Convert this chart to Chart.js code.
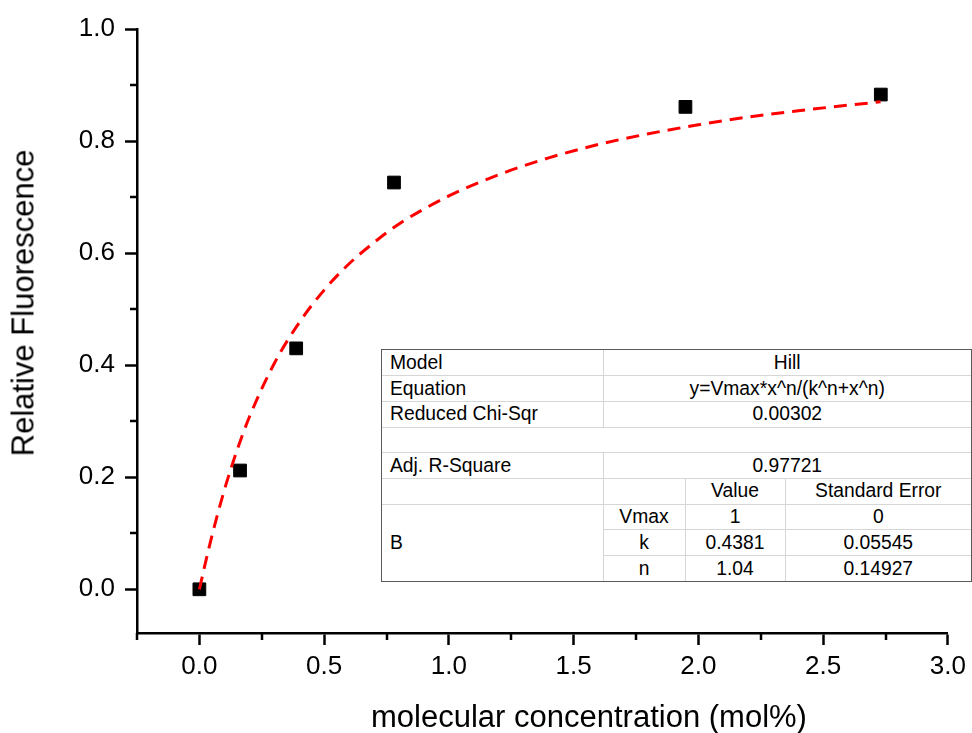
<!DOCTYPE html>
<html>
<head>
<meta charset="utf-8">
<script src="https://cdn.jsdelivr.net/npm/chart.js@4/dist/chart.umd.min.js"></script>
<style>
  html, body { margin: 0; padding: 0; background: #fff; }
  #wrap { position: relative; width: 972px; height: 733px; overflow: hidden; }
  #c { position: absolute; left: 0; top: 0; }
  .title { position: absolute; font-family: 'Liberation Sans', Arial, sans-serif; font-size: 31px; line-height: 31px; color: #000; white-space: nowrap; }
  #ytitle { left: 23px; top: 303px; transform: translate(-50%, -50%) rotate(-90deg); }
  #xtitle { left: 589px; top: 716px; transform: translate(-50%, -50%); }
  #tbox { position: absolute; left: 381px; top: 349px; width: 589px; border: 1px solid #5a5a5a; background: #fff; }
  #tbox table { border-collapse: collapse; border-style: hidden; table-layout: fixed; width: 589px;
    font-family: 'Liberation Sans', Arial, sans-serif; font-size: 19.3px; color: #000; }
  #tbox tr { height: 25.7px; }
  #tbox td { border: 1px solid #d6d6d6; padding: 0; text-align: center; line-height: 24px; white-space: nowrap; overflow: hidden; }
  #tbox td.l { text-align: left; padding-left: 8px; }
</style>
</head>
<body>
<div id="wrap">
  <canvas id="c" width="972" height="733"></canvas>
  <div class="title" id="ytitle">Relative Fluorescence</div>
  <div class="title" id="xtitle">molecular concentration (mol%)</div>
  <div id="tbox">
    <table>
      <colgroup><col style="width:221px"><col style="width:82px"><col style="width:100px"><col style="width:186px"></colgroup>
      <tr><td class="l">Model</td><td colspan="3">Hill</td></tr>
      <tr><td class="l">Equation</td><td colspan="3">y=Vmax*x^n/(k^n+x^n)</td></tr>
      <tr><td class="l">Reduced Chi-Sqr</td><td colspan="3">0.00302</td></tr>
      <tr><td colspan="4"></td></tr>
      <tr><td class="l">Adj. R-Square</td><td colspan="3">0.97721</td></tr>
      <tr><td></td><td></td><td>Value</td><td>Standard Error</td></tr>
      <tr><td class="l" rowspan="3">B</td><td>Vmax</td><td>1</td><td>0</td></tr>
      <tr><td>k</td><td>0.4381</td><td>0.05545</td></tr>
      <tr><td>n</td><td>1.04</td><td>0.14927</td></tr>
    </table>
  </div>
</div>
<script>
const pointX = [0, 0.163, 0.388, 0.78, 1.948, 2.731];
const pointY = [0, 0.212, 0.43, 0.726, 0.861, 0.883];

// Fitted Hill curve
const curveX = [0, 0.02, 0.05, 0.1, 0.15, 0.2, 0.3, 0.4, 0.5, 0.6, 0.7, 0.8, 1.0, 1.2, 1.4, 1.6, 1.8, 2.0, 2.2, 2.4, 2.6, 2.73];
const curveY = [0, 0.039, 0.095, 0.177, 0.247, 0.307, 0.403, 0.476, 0.534, 0.581, 0.619, 0.652, 0.702, 0.740, 0.770, 0.794, 0.813, 0.829, 0.843, 0.854, 0.864, 0.870];

// Axis ticks
const xMajorTicks = [0, 0.5, 1.0, 1.5, 2.0, 2.5, 3.0];
const xMinorTicks = [-0.25, 0.25, 0.75, 1.25, 1.75, 2.25, 2.75];
const yMajorTicks = [0, 0.2, 0.4, 0.6, 0.8, 1.0];
const yMinorTicks = [0.1, 0.3, 0.5, 0.7, 0.9];
const xRange = [-0.25, 3.0];
const yRange = [-0.078, 1.0];

const FONT = "'Liberation Sans', Arial, sans-serif";

const minorTickPlugin = {
  id: 'minorTicks',
  afterDraw(chart) {
    const ctx = chart.ctx;
    const xs = chart.scales.x, ys = chart.scales.y;
    ctx.save();
    ctx.strokeStyle = '#000';
    ctx.lineWidth = 2.5;
    ctx.beginPath();
    xMinorTicks.forEach(v => {
      const px = Math.round(xs.getPixelForValue(v));
      ctx.moveTo(px, xs.top);
      ctx.lineTo(px, xs.top + 7);
    });
    yMinorTicks.forEach(v => {
      const py = Math.round(ys.getPixelForValue(v));
      ctx.moveTo(ys.right, py);
      ctx.lineTo(ys.right - 7, py);
    });
    ctx.stroke();
    ctx.restore();
  }
};

new Chart(document.getElementById('c'), {
  type: 'scatter',
  data: {
    datasets: [
      {
        label: 'Hill fit',
        data: curveX.map((x, i) => ({ x, y: curveY[i] })),
        showLine: true,
        borderColor: '#ff0000',
        borderWidth: 3,
        borderDash: [13, 8],
        pointRadius: 0,
        pointHoverRadius: 0,
        fill: false,
        cubicInterpolationMode: 'monotone'
      },
      {
        label: 'Data',
        data: pointX.map((x, i) => ({ x, y: pointY[i] })),
        showLine: false,
        pointStyle: 'rect',
        pointRadius: 9,
        pointBackgroundColor: '#000',
        pointBorderColor: '#000',
        pointBorderWidth: 1
      }
    ]
  },
  options: {
    responsive: false,
    animation: false,
    events: [],
    layout: { padding: { top: 29, right: 23, left: 0, bottom: 0 } },
    plugins: { legend: { display: false }, tooltip: { enabled: false }, title: { display: false } },
    scales: {
      x: {
        type: 'linear',
        min: xRange[0], max: xRange[1],
        afterBuildTicks(scale) { scale.ticks = xMajorTicks.map(v => ({ value: v })); },
        afterFit(scale) { scale.height = 100; },
        ticks: {
          color: '#000', font: { family: FONT, size: 26 }, padding: 6,
          maxRotation: 0, autoSkip: false,
          callback: v => v.toFixed(1)
        },
        grid: { display: true, drawOnChartArea: false, drawTicks: true, tickLength: 12, tickWidth: 2.5, tickColor: '#000' },
        border: { display: true, color: '#000', width: 2.5 },
        title: { display: false }
      },
      y: {
        type: 'linear',
        min: yRange[0], max: yRange[1],
        afterBuildTicks(scale) { scale.ticks = yMajorTicks.map(v => ({ value: v })); },
        afterFit(scale) { scale.width = 137; },
        ticks: {
          color: '#000', font: { family: FONT, size: 26 }, padding: 10,
          autoSkip: false,
          callback: v => v.toFixed(1)
        },
        grid: { display: true, drawOnChartArea: false, drawTicks: true, tickLength: 12, tickWidth: 2.5, tickColor: '#000' },
        border: { display: true, color: '#000', width: 2.5 },
        title: { display: false }
      }
    }
  },
  plugins: [minorTickPlugin]
});
</script>
</body>
</html>
